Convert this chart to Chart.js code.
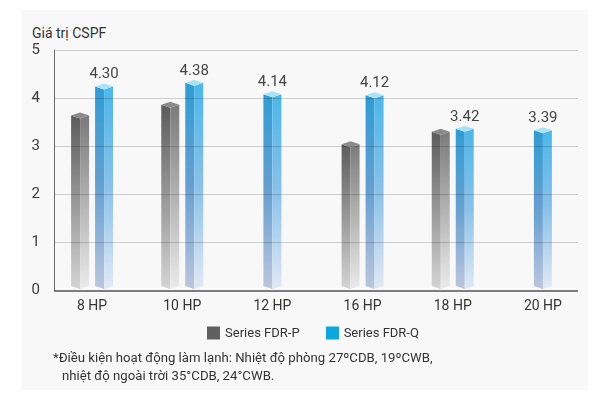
<!DOCTYPE html>
<html lang="vi">
<head>
<meta charset="utf-8">
<title>Giá trị CSPF</title>
<script src="https://cdn.jsdelivr.net/npm/chart.js@4.4.1/dist/chart.umd.min.js"></script>
<style>
  html, body { margin: 0; padding: 0; background: #fff; }
  #wrap { position: relative; width: 600px; height: 400px; overflow: hidden; font-family: Roboto, "Noto Sans", sans-serif; }
  #panel { position: absolute; left: 22px; top: 10px; width: 566px; height: 380px; background: #f8f8f8; }
  #cspf { position: absolute; left: 0; top: 0; }
  #ytitle { position: absolute; left: 32px; top: 25px; font-size: 14px; line-height: 16px; color: #333; }
  #note { position: absolute; left: 53px; top: 349px; font-size: 13.2px; line-height: 18px; color: #333; }
  #note span { display: block; padding-left: 9px; }
</style>
</head>
<body>
<div id="wrap">
  <div id="panel"></div>
  <div id="ytitle">Giá trị CSPF</div>
  <canvas id="cspf" width="600" height="400"></canvas>
  <div id="note">*Điều kiện hoạt động làm lạnh: Nhiệt độ phòng 27ºCDB, 19ºCWB,<span>nhiệt độ ngoài trời 35°CDB, 24°CWB.</span></div>
</div>
<script>
// CSPF comparison, FDR-P vs FDR-Q series

const categories = ['8 HP', '10 HP', '12 HP', '16 HP', '18 HP', '20 HP'];
const seriesP = [3.70, 3.92, null, 3.10, 3.36, null];
const seriesQ = [4.30, 4.38, 4.14, 4.12, 3.42, 3.39];
const yTicks = [0, 1, 2, 3, 4, 5];

const FONT = 'Roboto, "Noto Sans", sans-serif';

// colours for the fake 3D prism faces (top -> middle -> bottom)
const faces = {
    P: { left: ['#5a5a5a', '#979797', '#d4d4d4'], right: ['#787878', '#b2b2b2', '#ebebeb'], top: '#8a8a8a' },
    Q: { left: ['#2c9dd5', '#659fd1', '#bcc6dd'], right: ['#49b7ea', '#88c1ea', '#e2e9f6'], top: '#a8e3f8' }
};

function faceGradient(ctx, stops, y0, y1) {
    const g = ctx.createLinearGradient(0, y0, 0, y1);
    g.addColorStop(0, stops[0]);
    g.addColorStop(0.5, stops[1]);
    g.addColorStop(1, stops[2]);
    return g;
}

function poly(ctx, pts, fill) {
    ctx.beginPath();
    ctx.moveTo(pts[0][0], pts[0][1]);
    for (let k = 1; k < pts.length; k++) ctx.lineTo(pts[k][0], pts[k][1]);
    ctx.closePath();
    ctx.fillStyle = fill;
    ctx.fill();
}

/**
 * Draws bars as little prisms, then grid + axis lines and value labels
 */
const prismBars = {
    id: 'prismBars',
    beforeDatasetDraw() {
        return false; // default flat bars are replaced below
    },
    afterDatasetsDraw(chart) {
        const ctx = chart.ctx;
        const area = chart.chartArea;
        const yScale = chart.scales.y;
        const h = 3;

        ctx.save();
        chart.data.datasets.forEach((ds, di) => {
            const look = faces[ds.key];
            chart.getDatasetMeta(di).data.forEach((bar, i) => {
                if (ds.data[i] == null) return;
                const { x, y, base, width } = bar.getProps(['x', 'y', 'base', 'width'], true);
                const l = x - width / 2;
                const r = x + width / 2;
                const b = base - 1;
                poly(ctx, [[l, y + h], [x, y + 2 * h], [x, b], [l, b - h]], faceGradient(ctx, look.left, y, b));
                poly(ctx, [[x, y + 2 * h], [r, y + h], [r, b - h], [x, b]], faceGradient(ctx, look.right, y, b));
                poly(ctx, [[x, y], [r, y + h], [x, y + 2 * h], [l, y + h]], look.top);
            });
        });

        // grid lines sit on top of the bars, slightly see-through
        const x0 = area.left + 7;
        const x1 = area.right - 10;
        ctx.lineWidth = 1;
        ctx.strokeStyle = 'rgba(0, 0, 0, 0.17)';
        yScale.ticks.forEach(t => {
            if (t.value === yTicks[0]) return;
            const py = Math.round(yScale.getPixelForValue(t.value)) + 0.5;
            ctx.beginPath();
            ctx.moveTo(x0, py);
            ctx.lineTo(x1, py);
            ctx.stroke();
        });

        const yTop = yScale.getPixelForValue(yTicks[yTicks.length - 1]);
        const yBot = Math.round(yScale.getPixelForValue(yTicks[0])) + 1;
        ctx.strokeStyle = '#6a6a6a';
        ctx.beginPath();
        ctx.moveTo(x0 + 0.5, yTop);
        ctx.lineTo(x0 + 0.5, yBot);
        ctx.stroke();
        ctx.lineWidth = 1.6;
        ctx.strokeStyle = '#555';
        ctx.beginPath();
        ctx.moveTo(x0, yBot);
        ctx.lineTo(x1, yBot);
        ctx.stroke();

        // value labels for the Q series
        ctx.font = '15px ' + FONT;
        ctx.fillStyle = '#444';
        ctx.textAlign = 'center';
        ctx.textBaseline = 'middle';
        chart.data.datasets.forEach((ds, di) => {
            if (!ds.showValues) return;
            chart.getDatasetMeta(di).data.forEach((bar, i) => {
                if (ds.data[i] == null) return;
                const { x, y } = bar.getProps(['x', 'y'], true);
                ctx.fillText(ds.data[i].toFixed(2), x, y - 9);
            });
        });
        ctx.restore();
    },
    // simple legend row under the axis, built from the datasets
    afterDraw(chart) {
        const ctx = chart.ctx;
        const box = 13, gap = 5, spacing = 26;
        const cy = 333, center = 313;
        ctx.save();
        ctx.font = '13px ' + FONT;
        ctx.textBaseline = 'middle';
        ctx.textAlign = 'left';
        const items = chart.data.datasets.map(ds => ({
            ds, w: box + gap + ctx.measureText(ds.label).width
        }));
        const total = items.reduce((s, it) => s + it.w, 0) + spacing * (items.length - 1);
        let x = center - total / 2;
        items.forEach(it => {
            ctx.fillStyle = it.ds.backgroundColor;
            ctx.fillRect(Math.round(x), cy - box / 2, box, box);
            ctx.fillStyle = '#333';
            ctx.fillText(it.ds.label, x + box + gap, cy + 0.5);
            x += it.w + spacing;
        });
        ctx.restore();
    }
};

Chart.defaults.font.family = FONT;

new Chart(document.getElementById('cspf'), {
    type: 'bar',
    data: {
        labels: categories,
        datasets: [
            {
                key: 'P',
                label: 'Series FDR-P',
                data: seriesP,
                backgroundColor: '#5f5f5f',
                borderWidth: 0
            },
            {
                key: 'Q',
                label: 'Series FDR-Q',
                data: seriesQ,
                backgroundColor: '#0ba7de',
                borderWidth: 0,
                showValues: true
            }
        ]
    },
    options: {
        responsive: false,
        animation: false,
        layout: { padding: { top: 50, left: 20, right: 12, bottom: 86 } },
        datasets: {
            bar: {
                skipNull: true,
                categoryPercentage: 0.532,
                barPercentage: 0.75,
                maxBarThickness: 18
            }
        },
        plugins: {
            tooltip: { enabled: false },
            legend: { display: false }
        },
        scales: {
            x: {
                grid: { display: false, drawTicks: false },
                border: { display: false },
                ticks: { color: '#333', font: { size: 14 }, padding: 8 },
                afterFit(scale) { scale.height = 24; }
            },
            y: {
                min: yTicks[0],
                max: yTicks[yTicks.length - 1],
                ticks: { stepSize: 1, color: '#3a3a3a', font: { size: 15 }, padding: 7 },
                grid: { display: false, drawTicks: false },
                border: { display: false },
                afterFit(scale) { scale.width = 27; }
            }
        }
    },
    plugins: [prismBars]
});
</script>
</body>
</html>
